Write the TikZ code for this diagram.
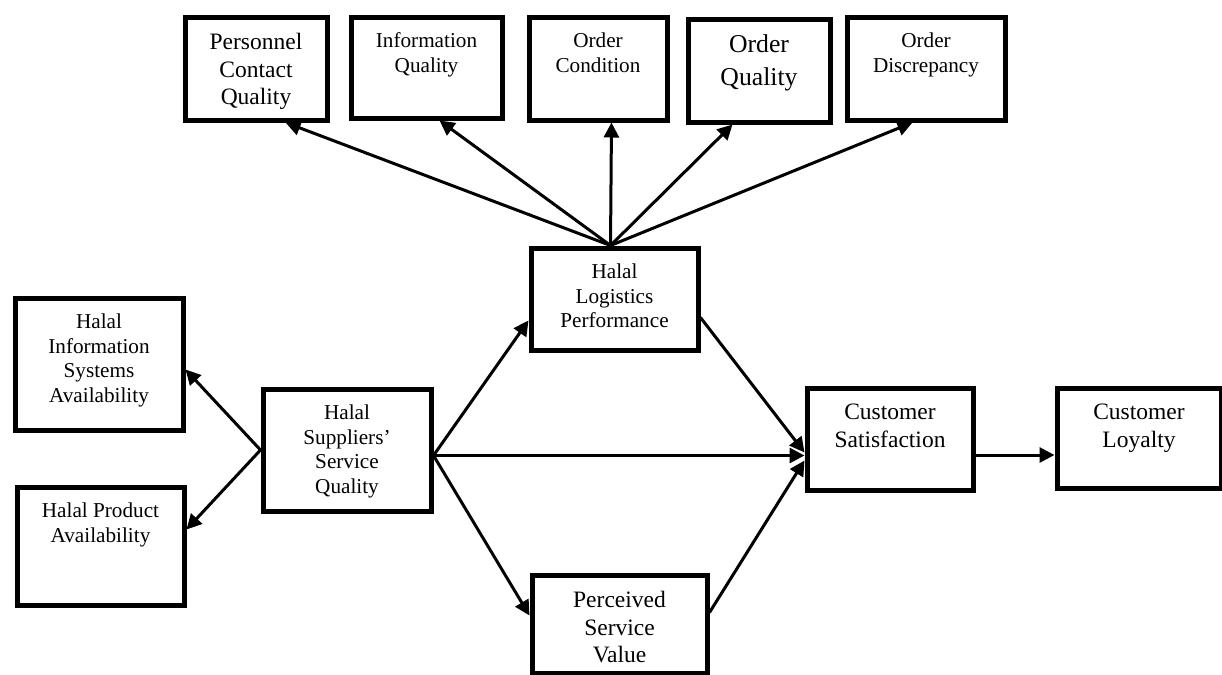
\documentclass[tikz,border=0pt]{standalone}
\usepackage{fontspec}
\setmainfont{Liberation Serif}
\usetikzlibrary{arrows.meta}

\newlength{\txtgap}
\setlength{\txtgap}{8pt}
\newcommand{\boxtext}[3]{\parbox[c][#2][t]{#1}{\centering\vspace*{\txtgap}#3}}

\begin{document}
\begin{tikzpicture}[x=0.5pt, y=-0.5pt,
        >={Triangle[length=7.5pt,width=7.5pt]},
        blk/.style={draw, line width=2.5pt, inner sep=0pt, anchor=north west},
        szs/.style={font=\fontsize{10.6}{12.3}\selectfont},
        szm/.style={font=\fontsize{11.75}{13.9}\selectfont},
        szl/.style={font=\fontsize{12.85}{16.5}\selectfont},
        link/.style={->, line width=1.5pt}]
                \useasboundingbox (0,0) rectangle (1222,675);

                % Dimensions (top row)
                \node[blk, szm] (pcq) at (182.5,14.5) {\boxtext{71pt}{51.5pt}{Personnel\\Contact\\Quality}};
                \node[blk, szs] (iq) at (348.5,14.5) {\boxtext{75.5pt}{50.5pt}{Information\\Quality}};
                \node[blk, szs] (oc) at (526.5,14.5) {\boxtext{69pt}{51.5pt}{Order\\Condition}};
                \node[blk, szl] (oq) at (685.5,16.5) {\boxtext{71pt}{51.5pt}{Order\\Quality}};
                \node[blk, szs] (od) at (844.5,14.5) {\boxtext{79pt}{51.5pt}{Order\\Discrepancy}};

                % Left side
                \node[blk, szs] (hisa) at (12.5,295.5) {\boxtext{84pt}{66pt}{Halal\\Information\\Systems\\Availability}};
                \node[blk, szs] (hpa) at (14.5,484.5) {\boxtext{83.5pt}{59pt}{Halal Product\\Availability}};
                \node[blk, szs] (hssq) at (260.5,386.5) {\boxtext{84pt}{61pt}{Halal\\Suppliers’\\Service\\Quality}};

                % Middle
                \node[blk, szs] (hlp) at (528.5,245.5) {\boxtext{83.5pt}{51pt}{Halal\\Logistics\\Performance}};
                \node[blk, szm] (psv) at (529.5,572.5) {\boxtext{87.5pt}{49pt}{Perceived\\Service\\Value}};

                % Right side
                \node[blk, szm] (cs) at (804.5,385.5) {\boxtext{83pt}{51pt}{Customer\\Satisfaction}};
                \node[blk, szm] (cl) at (1054.5,385.5) {\boxtext{82pt}{50pt}{Customer\\Loyalty}};

                % Fan to the dimensions
                \coordinate (fan) at ([xshift=-2pt]hlp.north);
                \draw[link] (fan) -- ([xshift=14.75pt]pcq.south);
                \draw[link] (fan) -- ([xshift=6.5pt]iq.south);
                \draw[link] (fan) -- ([xshift=6.75pt]oc.south);
                \draw[link] (fan) -- ([xshift=-13.25pt]oq.south);
                \draw[link] (fan) -- ([xshift=-6.75pt]od.south);

                % Paths
                \draw[link] (hssq.west) -- ([yshift=-2.75pt]hisa.east);
                \draw[link] (hssq.west) -- ([yshift=8.25pt]hpa.east);
                \draw[link] ([yshift=-2.75pt]hssq.east) -- ([yshift=-10.75pt]hlp.west);
                \draw[link] ([yshift=-2.75pt]hssq.east) -- ([yshift=4.25pt]psv.west);
                \draw[link] ([yshift=-2.75pt]hssq.east) -- ([yshift=-8.25pt]cs.west);
                \draw[link] ([yshift=-9.25pt]hlp.east) -- ([yshift=-6.75pt]cs.west);
                \draw[link] ([yshift=5.75pt]psv.east) -- ([yshift=-10.75pt]cs.west);
                \draw[link] ([yshift=-8pt]cs.east) -- ([yshift=-8pt]cs.east -| cl.west);
\end{tikzpicture}
\end{document}
